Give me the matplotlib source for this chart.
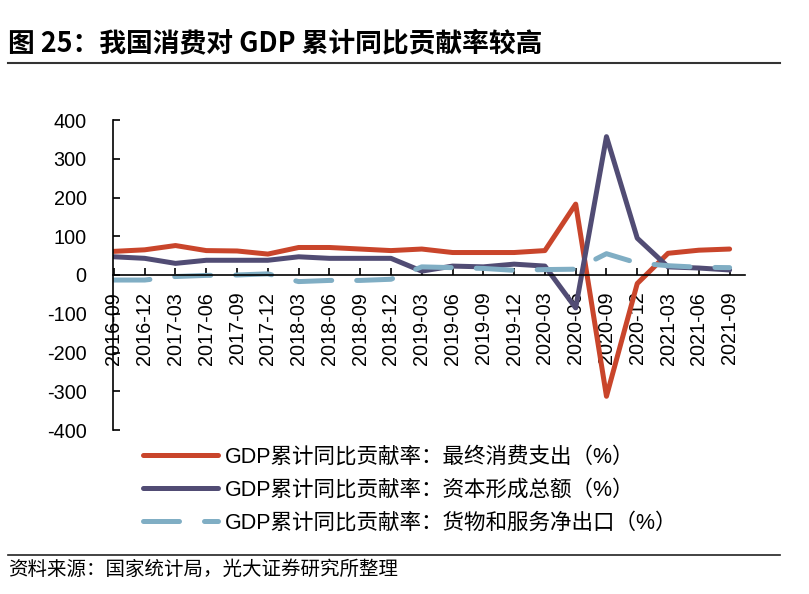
import matplotlib
matplotlib.use("Agg")
import matplotlib.pyplot as plt
from matplotlib.font_manager import FontProperties
from matplotlib.lines import Line2D

plt.rcParams['font.family'] = ['Liberation Sans', 'Noto Sans CJK SC', 'DejaVu Sans']
plt.rcParams['axes.unicode_minus'] = False

# Dados
periodos = ['2016-09', '2016-12', '2017-03', '2017-06', '2017-09', '2017-12',
            '2018-03', '2018-06', '2018-09', '2018-12', '2019-03', '2019-06',
            '2019-09', '2019-12', '2020-03', '2020-06', '2020-09', '2020-12',
            '2021-03', '2021-06', '2021-09']

consumo = [61, 65, 76, 63, 62, 54, 71, 71, 67, 63, 67, 58,
           58, 58, 63, 183, -313, -22, 56, 64, 67]
capital = [47, 43, 30, 38, 38, 38, 47, 43, 43, 43, 10, 23,
           21, 28, 23, -85, 357, 95, 21, 18, 13]
exportacao = [-13, -13, -4, -1, 0, 3, -17, -14, -14, -11, 21, 19,
              17, 12, 14, 15, 55, 31, 24, 20, 19]

nomes = ['GDP累计同比贡献率：最终消费支出（%）',
         'GDP累计同比贡献率：资本形成总额（%）',
         'GDP累计同比贡献率：货物和服务净出口（%）']
cores = ['#C9452B', '#514C74', '#80AEC4']

titulo = '图 25：我国消费对 GDP 累计同比贡献率较高'
fonte = '资料来源：国家统计局，光大证券研究所整理'

W, H = 809, 594
fig = plt.figure(figsize=(W / 100, H / 100), dpi=100)
ax = fig.add_axes([113 / W, (H - 430) / H, 632 / W, 310 / H])

x = list(range(len(periodos)))
lw = 3.6
ax.plot(x, consumo, color=cores[0], lw=lw, solid_capstyle='round', solid_joinstyle='round')
ax.plot(x, capital, color=cores[1], lw=lw, solid_capstyle='round', solid_joinstyle='round')
ax.plot(x, exportacao, color=cores[2], lw=lw, dashes=(7.2, 5),
        dash_capstyle='round', dash_joinstyle='round')

for s in ['top', 'right']:
    ax.spines[s].set_visible(False)
ax.spines['bottom'].set_position(('data', 0))
ax.spines['left'].set_linewidth(1.2)
ax.spines['bottom'].set_linewidth(1.2)

ax.set_xlim(-0.03, 20.5)
ax.set_ylim(-400, 400)
ax.set_yticks(range(-400, 401, 100))
ax.set_xticks(x)
ax.set_xticklabels(periodos)
ax.tick_params(axis='y', direction='in', length=5, width=1.2, pad=19, labelsize=14.3)
ax.tick_params(axis='x', direction='in', length=5, width=1.2, pad=12, labelsize=14.3,
               labelrotation=90)

# Legenda
handles = [Line2D([], [], color=cores[0], lw=lw, solid_capstyle='round'),
           Line2D([], [], color=cores[1], lw=lw, solid_capstyle='round'),
           Line2D([], [], color=cores[2], lw=lw, dashes=(7.2, 5), dash_capstyle='round')]
fp = FontProperties(family=['Liberation Sans', 'Noto Sans CJK SC'], size=15.5)
fig.legend(handles, nomes, loc='upper left', bbox_to_anchor=(143 / W, (H - 447) / H),
           frameon=False, prop=fp, handlelength=3.5, handletextpad=0.3,
           labelspacing=0.55, borderpad=0, borderaxespad=0)

# Título e fonte
fig.text(8 / W, (H - 43) / H, titulo, fontsize=19.3, fontweight='bold',
         family=['Noto Sans CJK SC'], va='center', ha='left')
fig.add_artist(Line2D([8 / W, 780 / W], [(H - 63) / H] * 2, color='#333333', lw=1.5))
fig.add_artist(Line2D([8 / W, 780 / W], [(H - 555) / H] * 2, color='#222222', lw=1.2))
fig.text(8 / W, (H - 569) / H, fonte, fontsize=14, family=['Noto Sans CJK SC'],
         va='center', ha='left')

fig.savefig('out.png', dpi=100)
